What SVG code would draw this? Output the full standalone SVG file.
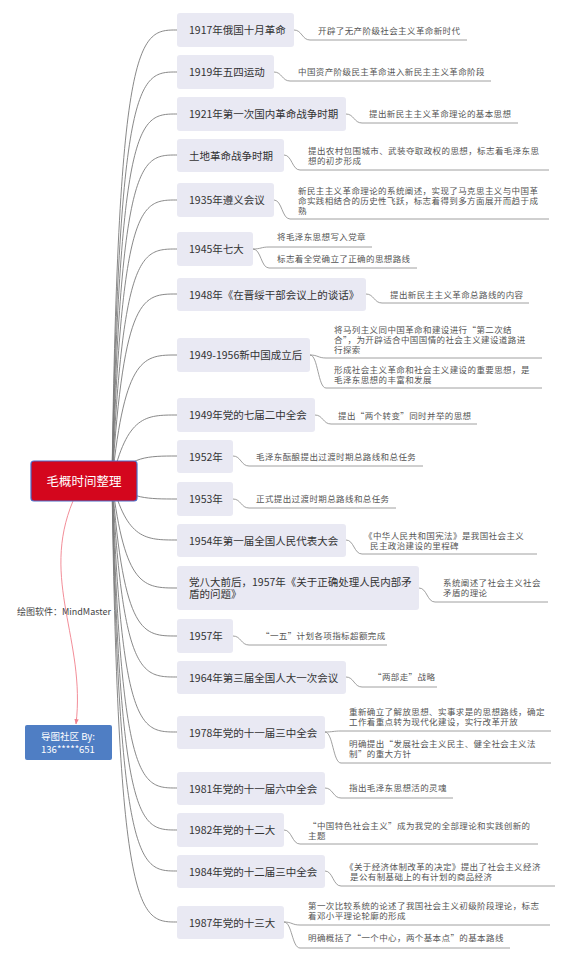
<svg xmlns="http://www.w3.org/2000/svg" width="568" height="961" viewBox="0 0 568 961">
<defs>
<style>
.nd{fill:#e9e9f3;}
.nt{font-family:"Noto Sans CJK SC","Noto Sans",sans-serif;font-size:10.5px;fill:#333;}
.lt{font-family:"Noto Sans CJK SC","Noto Sans",sans-serif;font-size:8.5px;fill:#555;letter-spacing:0.4px;}
.c{fill:none;stroke:#7a7a7a;stroke-width:0.9;}
.l{fill:none;stroke:#888;stroke-width:0.8;}
</style>
<marker id="pa" viewBox="0 0 10 10" refX="9" refY="5" markerWidth="6" markerHeight="6" orient="auto"><path d="M0,1 L10,5 L0,9 z" fill="#f0808c"/></marker>
</defs>
<rect width="568" height="961" fill="#fff"/>
<g id="connectors">
<path class="c" d="M112,481 C118,30 140,30 177,30"/>
<path class="c" d="M112,481 C119,72 140,72 177,72"/>
<path class="c" d="M112,481 C120,114 140,114 177,114"/>
<path class="c" d="M112,481 C121,155 141,155 177,155"/>
<path class="c" d="M112,481 C122,200 141,200 177,200"/>
<path class="c" d="M112,481 C123,249 142,249 177,249"/>
<path class="c" d="M112,481 C124,294 143,294 177,294"/>
<path class="c" d="M112,481 C125,355 144,355 177,355"/>
<path class="c" d="M112,481 C127,415 146,415 177,415"/>
<path class="c" d="M112,481 C130,456 148,456 177,456"/>
<path class="c" d="M112,481 C130,499 148,499 177,499"/>
<path class="c" d="M112,481 C127,540 146,540 177,540"/>
<path class="c" d="M112,481 C125,588 144,588 177,588"/>
<path class="c" d="M112,481 C124,636 143,636 177,636"/>
<path class="c" d="M112,481 C123,677 142,677 177,677"/>
<path class="c" d="M112,481 C122,732 141,732 177,732"/>
<path class="c" d="M112,481 C121,788 141,788 177,788"/>
<path class="c" d="M112,481 C120,830 140,830 177,830"/>
<path class="c" d="M112,481 C119,871 140,871 177,871"/>
<path class="c" d="M112,481 C118,922 140,922 177,922"/>
<path class="l" d="M294,30 C302,30 302,40 310,40 L467,40"/>
<path class="l" d="M274,72 C282,72 282,81 290,81 L491,81"/>
<path class="l" d="M346,114 C354,114 354,123 362,123 L518,123"/>
<path class="l" d="M284,155 C292,155 292,170 300,170 L549,170"/>
<path class="l" d="M274,200 C282,200 282,219 290,219 L549,219"/>
<path class="l" d="M253,249 C261,249 261,247 269,247 L372,247"/>
<path class="l" d="M253,249 C261,249 261,268 269,268 L417,268"/>
<path class="l" d="M366,294 C374,294 374,303 382,303 L529,303"/>
<path class="l" d="M310,355 C318,355 318,358 326,358 L542,358"/>
<path class="l" d="M310,355 C318,355 318,388 326,388 L542,388"/>
<path class="l" d="M315,415 C323,415 323,424 331,424 L477,424"/>
<path class="l" d="M233,456 C241,456 241,466 249,466 L423,466"/>
<path class="l" d="M233,499 C241,499 241,508 249,508 L396,508"/>
<path class="l" d="M346,540 C354,540 354,554 362,554 L537,554"/>
<path class="l" d="M419,588 C427,588 427,602 435,602 L548,602"/>
<path class="l" d="M233,636 C241,636 241,645 249,645 L387,645"/>
<path class="l" d="M346,677 C354,677 354,687 362,687 L437,687"/>
<path class="l" d="M325,732 C333,732 333,731 341,731 L551,731"/>
<path class="l" d="M325,732 C333,732 333,763 341,763 L551,763"/>
<path class="l" d="M325,788 C333,788 333,798 341,798 L453,798"/>
<path class="l" d="M284,830 C292,830 292,844 300,844 L538,844"/>
<path class="l" d="M325,871 C333,871 333,886 341,886 L555,886"/>
<path class="l" d="M284,922 C292,922 292,925 300,925 L550,925"/>
<path class="l" d="M284,922 C292,922 292,948 300,948 L510,948"/>
<path d="M73,501 C40,580 86,640 76,724" fill="none" stroke="#f0808c" stroke-width="0.9" marker-end="url(#pa)"/>
</g>
<g id="root">
<rect x="31" y="461" width="106" height="40" rx="3" fill="#d4061d" stroke="#4b6bc6" stroke-width="1.2"/>
<text x="84" y="485.5" text-anchor="middle" style="font-family:'Noto Sans CJK SC','Noto Sans',sans-serif;font-size:12.5px;fill:#fff;">毛概时间整理</text>
</g>
<g id="note">
<text x="17" y="615" style="font-family:'Noto Sans CJK SC','Noto Sans',sans-serif;font-size:9px;fill:#444;">绘图软件：MindMaster</text>
</g>
<g id="community">
<rect x="25" y="725" width="87" height="35" rx="2" fill="#4f7ec4"/>
<text x="68" y="740" text-anchor="middle" style="font-family:'Noto Sans CJK SC','Noto Sans',sans-serif;font-size:9.5px;fill:#fff;">导图社区 By:</text>
<text x="68" y="752.5" text-anchor="middle" style="font-family:'Noto Sans CJK SC','Noto Sans',sans-serif;font-size:9.5px;fill:#fff;">136*****651</text>
</g>
<g id="n1"><rect class="nd" x="177" y="13" width="117" height="34" rx="3"/><text class="nt" x="189" y="34">1917年俄国十月革命</text>
<text class="lt" x="318" y="34">开辟了无产阶级社会主义革命新时代</text></g>
<g id="n2"><rect class="nd" x="177" y="55" width="97" height="34" rx="3"/><text class="nt" x="189" y="76">1919年五四运动</text>
<text class="lt" x="298" y="75">中国资产阶级民主革命进入新民主主义革命阶段</text></g>
<g id="n3"><rect class="nd" x="177" y="97" width="169" height="34" rx="3"/><text class="nt" x="189" y="118">1921年第一次国内革命战争时期</text>
<text class="lt" x="369" y="117">提出新民主主义革命理论的基本思想</text></g>
<g id="n4"><rect class="nd" x="177" y="139" width="107" height="33" rx="3"/><text class="nt" x="189" y="159.5">土地革命战争时期</text>
<text class="lt" x="308" y="154">提出农村包围城市、武装夺取政权的思想，标志着毛泽东思</text><text class="lt" x="308" y="163.5">想的初步形成</text></g>
<g id="n5"><rect class="nd" x="177" y="183" width="97" height="34" rx="3"/><text class="nt" x="189" y="204">1935年遵义会议</text>
<text class="lt" x="298" y="194">新民主主义革命理论的系统阐述，实现了马克思主义与中国革</text><text class="lt" x="298" y="204">命实践相结合的历史性飞跃，标志着得到多方面展开而趋于成</text><text class="lt" x="298" y="214">熟</text></g>
<g id="n6"><rect class="nd" x="177" y="232" width="76" height="34" rx="3"/><text class="nt" x="189" y="253">1945年七大</text>
<text class="lt" x="277" y="240">将毛泽东思想写入党章</text><text class="lt" x="277" y="262">标志着全党确立了正确的思想路线</text></g>
<g id="n7"><rect class="nd" x="177" y="278" width="189" height="33" rx="3"/><text class="nt" x="189" y="298.5">1948年《在晋绥干部会议上的谈话》</text>
<text class="lt" x="390" y="298">提出新民主主义革命总路线的内容</text></g>
<g id="n8"><rect class="nd" x="177" y="338" width="133" height="34" rx="3"/><text class="nt" x="189" y="359">1949-1956新中国成立后</text>
<text class="lt" x="334" y="333">将马列主义同中国革命和建设进行“第二次结</text><text class="lt" x="334" y="343">合”，为开辟适合中国国情的社会主义建设道路进</text><text class="lt" x="334" y="352.5">行探索</text>
<text class="lt" x="334" y="373">形成社会主义革命和社会主义建设的重要思想，是</text><text class="lt" x="334" y="382.5">毛泽东思想的丰富和发展</text></g>
<g id="n9"><rect class="nd" x="177" y="398" width="138" height="34" rx="3"/><text class="nt" x="189" y="419">1949年党的七届二中全会</text>
<text class="lt" x="338" y="419">提出“两个转变”同时并举的思想</text></g>
<g id="n10"><rect class="nd" x="177" y="440" width="56" height="33" rx="3"/><text class="nt" x="189" y="460.5">1952年</text>
<text class="lt" x="256" y="460">毛泽东酝酿提出过渡时期总路线和总任务</text></g>
<g id="n11"><rect class="nd" x="177" y="482" width="56" height="34" rx="3"/><text class="nt" x="189" y="503">1953年</text>
<text class="lt" x="256" y="502">正式提出过渡时期总路线和总任务</text></g>
<g id="n12"><rect class="nd" x="177" y="524" width="169" height="33" rx="3"/><text class="nt" x="189" y="544.5">1954年第一届全国人民代表大会</text>
<text class="lt" x="364" y="539">《中华人民共和国宪法》是我国社会主义</text><text class="lt" x="370" y="549">民主政治建设的里程碑</text></g>
<g id="n13"><rect class="nd" x="177" y="566" width="242" height="44" rx="3"/><text class="nt" x="189" y="586">党八大前后，1957年《关于正确处理人民内部矛</text><text class="nt" x="189" y="598">盾的问题》</text>
<text class="lt" x="443" y="586">系统阐述了社会主义社会</text><text class="lt" x="443" y="596">矛盾的理论</text></g>
<g id="n14"><rect class="nd" x="177" y="619" width="56" height="34" rx="3"/><text class="nt" x="189" y="640">1957年</text>
<text class="lt" x="261" y="639">“一五”计划各项指标超额完成</text></g>
<g id="n15"><rect class="nd" x="177" y="661" width="169" height="33" rx="3"/><text class="nt" x="189" y="681.5">1964年第三届全国人大一次会议</text>
<text class="lt" x="373" y="680">“两部走”战略</text></g>
<g id="n16"><rect class="nd" x="177" y="716" width="148" height="33" rx="3"/><text class="nt" x="189" y="736.5">1978年党的十一届三中全会</text>
<text class="lt" x="349" y="715">重新确立了解放思想、实事求是的思想路线，确定</text><text class="lt" x="349" y="725">工作着重点转为现代化建设，实行改革开放</text>
<text class="lt" x="349" y="747">明确提出“发展社会主义民主、健全社会主义法</text><text class="lt" x="349" y="757">制”的重大方针</text></g>
<g id="n17"><rect class="nd" x="177" y="772" width="148" height="33" rx="3"/><text class="nt" x="189" y="792.5">1981年党的十一届六中全会</text>
<text class="lt" x="349" y="791">指出毛泽东思想活的灵魂</text></g>
<g id="n18"><rect class="nd" x="177" y="813" width="107" height="34" rx="3"/><text class="nt" x="189" y="834">1982年党的十二大</text>
<text class="lt" x="308" y="829">“中国特色社会主义”成为我党的全部理论和实践创新的</text><text class="lt" x="308" y="838.5">主题</text></g>
<g id="n19"><rect class="nd" x="177" y="855" width="148" height="33" rx="3"/><text class="nt" x="189" y="875.5">1984年党的十二届三中全会</text>
<text class="lt" x="345" y="870">《关于经济体制改革的决定》提出了社会主义经济</text><text class="lt" x="350" y="880">是公有制基础上的有计划的商品经济</text></g>
<g id="n20"><rect class="nd" x="177" y="906" width="107" height="33" rx="3"/><text class="nt" x="189" y="926.5">1987年党的十三大</text>
<text class="lt" x="308" y="909">第一次比较系统的论述了我国社会主义初级阶段理论，标志</text><text class="lt" x="308" y="919">着邓小平理论轮廓的形成</text>
<text class="lt" x="308" y="941">明确概括了“一个中心，两个基本点”的基本路线</text></g>
</svg>
